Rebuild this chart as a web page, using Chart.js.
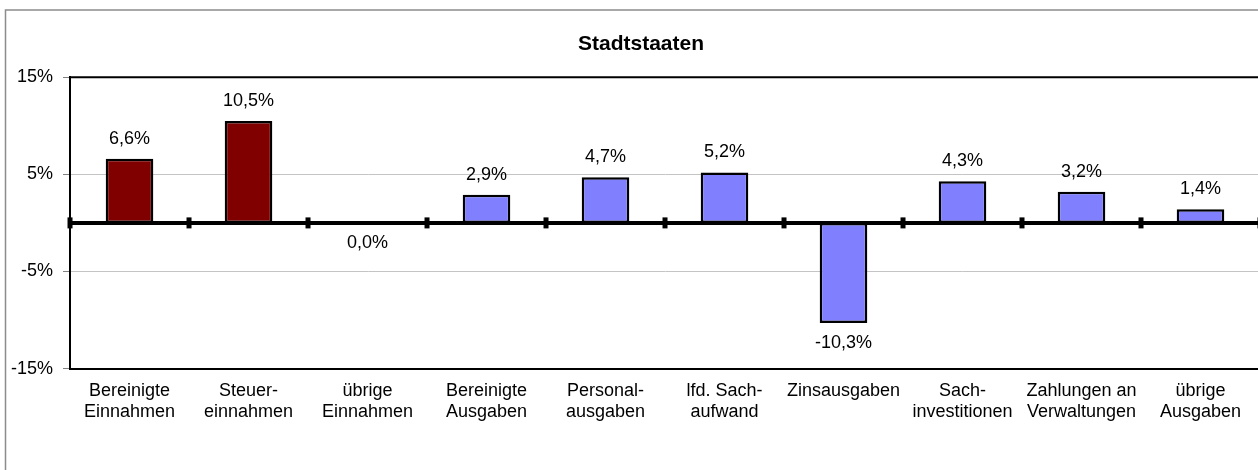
<!DOCTYPE html>
<html>
<head>
<meta charset="utf-8">
<script src="https://cdn.jsdelivr.net/npm/chart.js@4"></script>
<style>
  html, body { margin: 0; padding: 0; overflow: hidden; background: #fff; }
  #wrap { width: 1282px; height: 490px; position: relative; }
</style>
</head>
<body>
<div id="wrap"><canvas id="chart-stadtstaaten"></canvas></div>
<script>
// Stadtstaaten - Veraenderung gegenueber Vorjahr
const categories = [
  ['Bereinigte', 'Einnahmen'],
  ['Steuer-', 'einnahmen'],
  ['übrige', 'Einnahmen'],
  ['Bereinigte', 'Ausgaben'],
  ['Personal-', 'ausgaben'],
  ['lfd. Sach-', 'aufwand'],
  ['Zinsausgaben'],
  ['Sach-', 'investitionen'],
  ['Zahlungen an', 'Verwaltungen'],
  ['übrige', 'Ausgaben']
];
const values = [6.6, 10.5, 0.0, 2.9, 4.7, 5.2, -10.3, 4.3, 3.2, 1.4];
const barColors = ['#800000', '#800000', '#800000', '#8080ff', '#8080ff',
                   '#8080ff', '#8080ff', '#8080ff', '#8080ff', '#8080ff'];
const yTicks = [-15, -5, 5, 15];

const fontFamily = '"Liberation Sans", Arial, sans-serif';

// frame, zero line and value labels
const extras = {
  id: 'extras',
  afterLayout(chart) {
    // center the title on the whole canvas
    const t = chart.titleBlock;
    if (t) t.left = chart.width - t.right;
  },
  beforeDraw(chart) {
    const ctx = chart.ctx;
    ctx.save();
    ctx.strokeStyle = '#8c8c8c';
    ctx.lineWidth = 1.5;
    ctx.strokeRect(5.5, 10, chart.width - 11, chart.height - 12);
    ctx.restore();
  },
  afterDatasetsDraw(chart) {
    const ctx = chart.ctx;
    const x = chart.scales.x;
    const y = chart.scales.y;
    const area = chart.chartArea;
    ctx.save();
    // top border of plot
    ctx.strokeStyle = '#000';
    ctx.lineWidth = 2;
    ctx.beginPath();
    ctx.moveTo(area.left, area.top);
    ctx.lineTo(area.right, area.top);
    ctx.stroke();
    // zero line
    const y0 = y.getPixelForValue(0);
    ctx.lineWidth = 4;
    ctx.beginPath();
    ctx.moveTo(area.left, y0);
    ctx.lineTo(area.right, y0);
    ctx.stroke();
    // tick marks between categories
    const step = x.width / categories.length;
    ctx.fillStyle = '#000';
    for (let i = 0; i <= categories.length; i++) {
      const bx = x.left + i * step;
      ctx.fillRect(bx - 2.5, y0 - 5.5, 5, 11);
    }
    // value labels
    ctx.font = '18px ' + fontFamily;
    ctx.textAlign = 'center';
    ctx.textBaseline = 'middle';
    const meta = chart.getDatasetMeta(0);
    meta.data.forEach((bar, i) => {
      const v = values[i];
      const txt = v.toFixed(1).replace('.', ',') + '%';
      let ty;
      if (v > 0) ty = bar.y - 20;
      else ty = Math.max(bar.y, bar.base) + 20;
      ctx.fillText(txt, bar.x, ty);
    });
    ctx.restore();
  }
};

const ctx = document.getElementById('chart-stadtstaaten');
const myChart = new Chart(ctx, {
  type: 'bar',
  data: {
    labels: categories,
    datasets: [{
      data: values,
      backgroundColor: barColors,
      borderColor: '#000',
      borderWidth: 2.5,
      borderSkipped: false,
      barPercentage: 0.4,
      categoryPercentage: 1.0
    }]
  },
  options: {
    responsive: true,
    maintainAspectRatio: false,
    animation: false,
    layout: {
      padding: { top: 10, left: 1, right: 22, bottom: 56 }
    },
    plugins: {
      legend: { display: false },
      tooltip: { enabled: false },
      title: {
        display: true,
        text: 'Stadtstaaten',
        color: '#000',
        font: { family: fontFamily, size: 21, weight: 'bold', lineHeight: 1.2 },
        padding: { top: 22, bottom: 20 }
      }
    },
    scales: {
      x: {
        grid: { display: false, drawTicks: false },
        border: { display: true, color: '#000', width: 2 },
        ticks: {
          color: '#000',
          padding: 12,
          maxRotation: 0,
          autoSkip: false,
          font: { family: fontFamily, size: 18, lineHeight: 1.15 }
        }
      },
      y: {
        min: -15,
        max: 15,
        afterBuildTicks(axis) {
          axis.ticks = yTicks.map(v => ({ value: v }));
        },
        grid: {
          color: c => (c.tick && Math.abs(c.tick.value) === 5) ? '#c4c4c4' : 'rgba(0,0,0,0)',
          borderDash: [1, 2],
          lineWidth: 1,
          tickColor: '#808080',
          tickLength: 7,
          tickBorderDash: []
        },
        border: { display: true, color: '#000', width: 2 },
        ticks: {
          color: '#000',
          padding: 10,
          font: { family: fontFamily, size: 18 },
          callback: v => v + '%'
        }
      }
    }
  },
  plugins: [extras]
});
</script>
</body>
</html>
